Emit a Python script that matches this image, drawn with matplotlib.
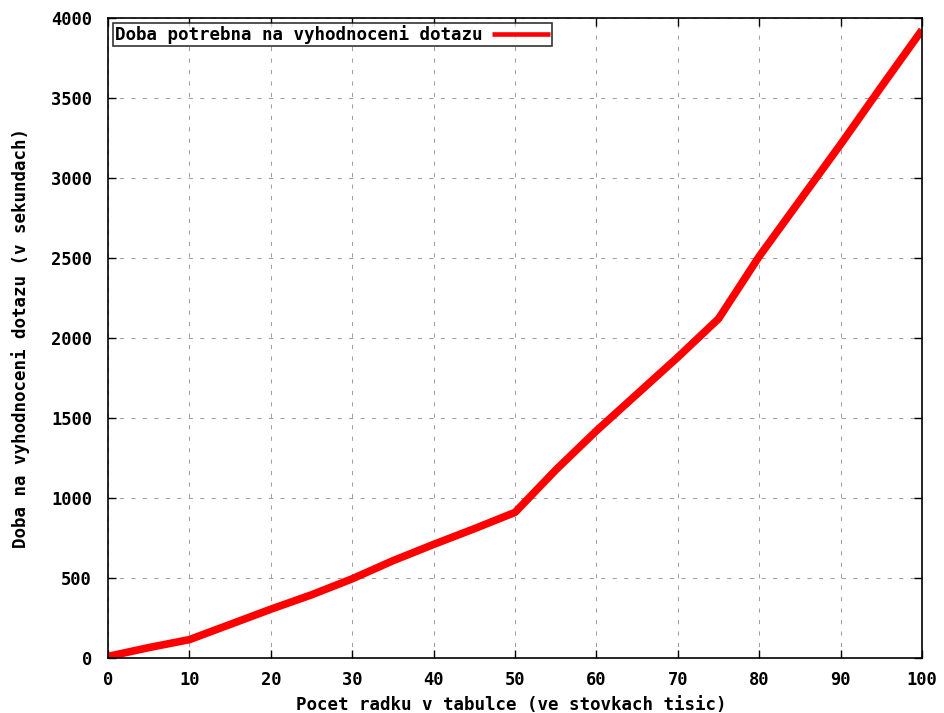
import matplotlib
matplotlib.use("Agg")
import matplotlib.pyplot as plt

x_values = [0, 5, 10, 15, 20, 25, 30, 35, 40, 45, 50, 55, 60, 65, 70, 75, 80, 85, 90, 95, 100]
y_values = [10, 65, 115, 210, 305, 395, 495, 608, 710, 808, 910, 1175, 1420, 1650, 1880, 2120, 2510, 2860, 3210, 3570, 3925]
series_label = "Doba potrebna na vyhodnoceni dotazu"
x_label = "Pocet radku v tabulce (ve stovkach tisic)"
y_label = "Doba na vyhodnoceni dotazu (v sekundach)"
x_ticks = list(range(0, 101, 10))
y_ticks = list(range(0, 4001, 500))

plt.rcParams['font.family'] = ['DejaVu Sans Mono']
plt.rcParams['font.weight'] = 'bold'
FS = 12.3
FS_L = 12.6

fig = plt.figure(figsize=(9.44, 7.13), dpi=100)
ax = fig.add_axes([0.1144, 0.0771, 0.8623, 0.8977])

ax.plot(x_values, y_values, color='#ff0000', lw=5.5, label=series_label, solid_capstyle='butt')

ax.set_xlim(0, 100)
ax.set_ylim(0, 4000)
ax.set_xticks(x_ticks)
ax.set_yticks(y_ticks)
ax.tick_params(direction='in', length=6, width=1, top=True, right=True, labelsize=FS)
ax.tick_params(axis='y', pad=11.5)
ax.tick_params(axis='x', pad=9.0)
for lab in ax.get_xticklabels() + ax.get_yticklabels():
    lab.set_fontweight('bold')
ax.grid(True, color='#a0a0a0', linestyle=(0, (4, 7)), linewidth=0.75)
for s in ax.spines.values():
    s.set_linewidth(1.2)
    s.set_color('black')

ax.set_xlabel(x_label, fontsize=FS_L, fontweight='bold')
ax.set_ylabel(y_label, fontsize=FS_L, fontweight='bold')
ax.xaxis.set_label_coords(0.496, -0.0595)
ax.yaxis.set_label_coords(-0.096, 0.5)

leg = ax.legend(loc='upper left', markerfirst=False, fontsize=FS_L, frameon=True, fancybox=False,
                edgecolor='black', handlelength=3.3, borderpad=0.1, borderaxespad=0.3,
                handletextpad=0.55)
leg.get_frame().set_linewidth(1.2)
for t in leg.get_texts():
    t.set_fontweight('bold')
for h in leg.legend_handles:
    h.set_linewidth(3.3)

fig.savefig('out.png', dpi=100)
